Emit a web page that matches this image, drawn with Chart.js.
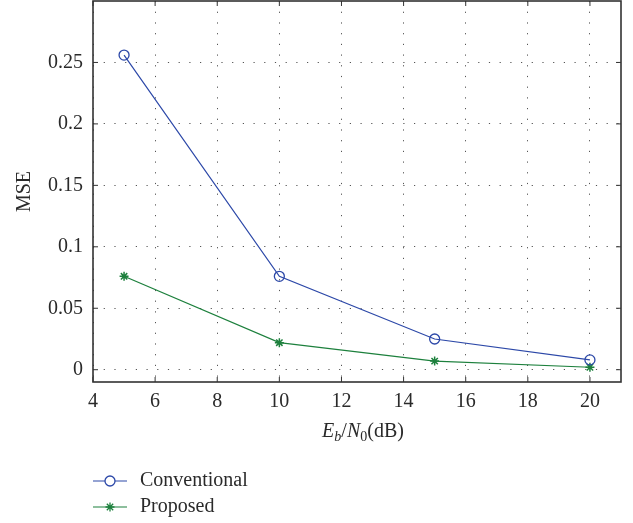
<!DOCTYPE html>
<html><head><meta charset="utf-8">
<script src="https://cdn.jsdelivr.net/npm/chart.js@4/dist/chart.umd.min.js"></script>
<style>html,body{margin:0;padding:0;background:#fff}canvas{display:block}</style>
</head><body>
<canvas id="c" width="633" height="523"></canvas>
<script>
const snrDb = [5, 10, 15, 20];
const conventional = [0.256, 0.076, 0.025, 0.008];
const proposed = [0.076, 0.022, 0.007, 0.002];
const xTicks = [4, 6, 8, 10, 12, 14, 16, 18, 20];
const yTicks = [0, 0.05, 0.1, 0.15, 0.2, 0.25];
const seriesNames = ['Conventional', 'Proposed'];

const BLUE = '#2c48a8', GREEN = '#1d803d', AX = '#2a2a2a';
const FONT = '"Liberation Serif", "DejaVu Serif", serif';

const framePlugin = {
  id: 'frame',
  afterDraw(chart) {
    const {ctx, chartArea: a, scales} = chart;
    ctx.save();
    ctx.strokeStyle = '#333'; ctx.lineWidth = 1.6;
    ctx.strokeRect(a.left, a.top, a.right - a.left, a.bottom - a.top);
    ctx.lineWidth = 1;
    ctx.beginPath();
    const tl = 5;
    xTicks.forEach(v => {
      const x = scales.x.getPixelForValue(v);
      ctx.moveTo(x, a.bottom); ctx.lineTo(x, a.bottom - tl);
      ctx.moveTo(x, a.top); ctx.lineTo(x, a.top + tl);
    });
    yTicks.forEach(v => {
      const y = scales.y.getPixelForValue(v);
      ctx.moveTo(a.left, y); ctx.lineTo(a.left + tl, y);
      ctx.moveTo(a.right, y); ctx.lineTo(a.right - tl, y);
    });
    ctx.stroke();
    // x axis title with subscripts
    const cx = (a.left + a.right) / 2 + 6, ty = 432;
    const parts = [
      {t: 'E', f: 'italic 20px ' + FONT, dy: 0},
      {t: 'b', f: 'italic 14px ' + FONT, dy: 5},
      {t: '/', f: '20px ' + FONT, dy: 0},
      {t: 'N', f: 'italic 20px ' + FONT, dy: 0},
      {t: '0', f: '14px ' + FONT, dy: 5},
      {t: '(dB)', f: '20px ' + FONT, dy: 0}
    ];
    let w = 0;
    parts.forEach(p => { ctx.font = p.f; p.w = ctx.measureText(p.t).width; w += p.w; });
    let x = cx - w / 2;
    ctx.fillStyle = AX; ctx.textBaseline = 'middle'; ctx.textAlign = 'left';
    parts.forEach(p => { ctx.font = p.f; ctx.fillText(p.t, x, ty + p.dy); x += p.w; });
    // legend
    const items = [
      {name: seriesNames[0], color: BLUE, style: 'circle', r: 5, y: 481},
      {name: seriesNames[1], color: GREEN, style: 'star', r: 4.5, y: 507}
    ];
    items.forEach(it => {
      ctx.strokeStyle = it.color; ctx.lineWidth = 1.1;
      ctx.beginPath(); ctx.moveTo(93, it.y); ctx.lineTo(127, it.y); ctx.stroke();
      ctx.fillStyle = it.style === 'star' ? it.color : '#fff';
      ctx.lineWidth = 1.3;
      Chart.helpers.drawPoint(ctx, {pointStyle: it.style, radius: it.r, borderWidth: 1.3, rotation: 0}, 110, it.y);
      ctx.fillStyle = AX; ctx.font = '20px ' + FONT; ctx.textBaseline = 'middle';
      ctx.fillText(it.name, 140, it.y);
    });
    ctx.restore();
  }
};

new Chart(document.getElementById('c'), {
  type: 'line',
  data: {
    datasets: [
      {label: seriesNames[0], data: snrDb.map((x, i) => ({x, y: conventional[i]})),
       borderColor: BLUE, backgroundColor: 'rgba(0,0,0,0)', borderWidth: 1.2,
       pointStyle: 'circle', pointRadius: 5, pointBorderWidth: 1.3, pointBorderColor: BLUE, tension: 0},
      {label: seriesNames[1], data: snrDb.map((x, i) => ({x, y: proposed[i]})),
       borderColor: GREEN, backgroundColor: GREEN, borderWidth: 1.2,
       pointStyle: 'star', pointRadius: 4.5, pointBorderWidth: 1.5, pointBorderColor: GREEN, tension: 0}
    ]
  },
  options: {
    responsive: false, animation: false,
    layout: {autoPadding: false, padding: {top: 1, right: 12, left: 0, bottom: 0}},
    plugins: {legend: {display: false}, tooltip: {enabled: false}},
    scales: {
      x: {
        type: 'linear', min: 4, max: 21,
        afterBuildTicks: s => { s.ticks = xTicks.map(v => ({value: v})); },
        afterFit: s => { s.height = 141; s.paddingLeft = 0; s.paddingRight = 0; },
        grid: {color: '#555', lineWidth: 1, drawTicks: false},
        border: {display: false, dash: [1.2, 9.5]},
        ticks: {padding: 8, color: AX, font: {family: FONT, size: 20}, callback: v => String(v), maxRotation: 0, autoSkip: false}
      },
      y: {
        type: 'linear', min: -0.01, max: 0.3,
        afterBuildTicks: s => { s.ticks = yTicks.map(v => ({value: v})); },
        afterFit: s => { s.width = 93; s.paddingTop = 0; s.paddingBottom = 0; },
        grid: {color: '#555', lineWidth: 1, drawTicks: false},
        border: {display: false, dash: [1.2, 9.5]},
        ticks: {padding: 10, color: AX, font: {family: FONT, size: 20}, callback: v => String(v), autoSkip: false},
        title: {display: true, text: 'MSE', color: AX, font: {family: FONT, size: 20}, padding: {top: 13, bottom: 0}}
      }
    }
  },
  plugins: [framePlugin]
});
</script>
</body></html>
